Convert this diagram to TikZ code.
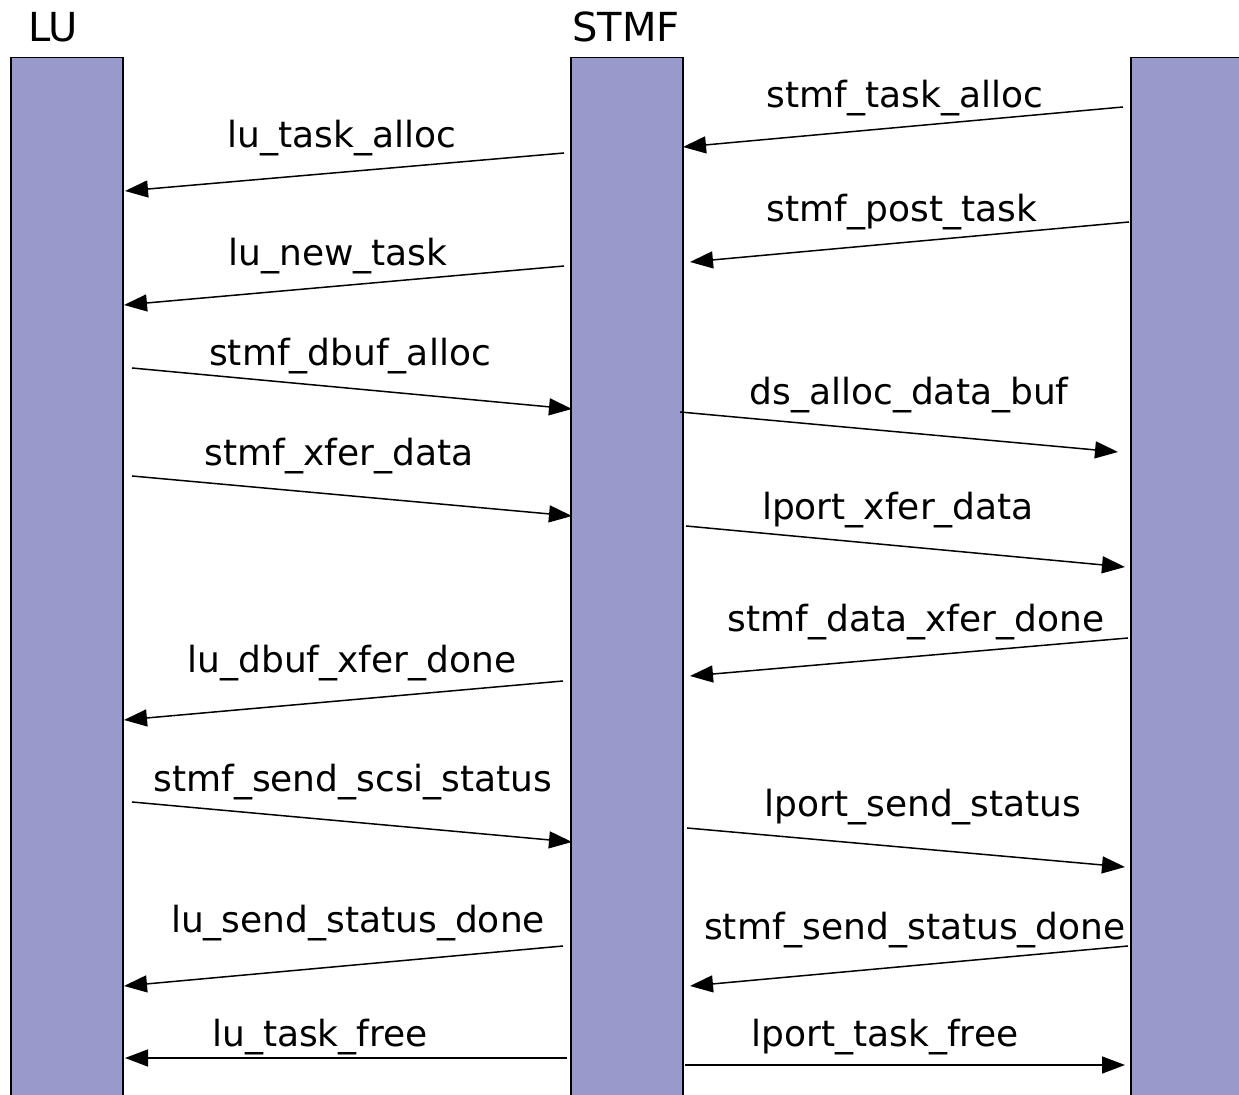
\documentclass[tikz,border=0pt]{standalone}
\usepackage{fontspec}
\setmainfont{DejaVu Sans}
\usetikzlibrary{arrows.meta}
\definecolor{barfill}{RGB}{153,153,204}
\tikzset{
  lifeline/.style={draw=black, line width=0.75pt, fill=barfill, rectangle,
    anchor=north west, inner sep=0pt, minimum width=56pt, minimum height=530pt},
  msg/.style={draw=black, line width=0.75pt, -{Triangle[length=11.5pt,width=8.5pt]}},
  lbl/.style={anchor=base, inner sep=0pt, font=\fontsize{18}{21}\selectfont},
  ttl/.style={anchor=base, inner sep=0pt, font=\fontsize{20}{23}\selectfont},
}
\begin{document}
\begin{tikzpicture}[x=0.5pt,y=-0.5pt]
\useasboundingbox (0,0) rectangle (1239,1095);
% lifelines, running off the bottom (and right) edge
\begin{scope}
  \clip (0,0) rectangle (1239,1095);
  \node[lifeline] (lu) at (10,57) {};
  \node[lifeline] (stmf) at (570,57) {};
  \node[lifeline, minimum width=70pt] (lport) at (1130,57) {};
\end{scope}
% lifeline titles
\node[ttl] (tlu) at (53,42) {LU};
\node[ttl] (tstmf) at (626,42) {STMF};
% messages: start, end, label position, label
\foreach \sx/\sy/\ex/\ey/\lx/\ly/\txt [count=\i] in {
  1123/107/683/147/905/108/stmf\_task\_alloc,
  564/153/125/191/342/148/lu\_task\_alloc,
  1129/222/690/262/902/222/stmf\_post\_task,
  564/266/124/305/338/266/lu\_new\_task,
  132/368/572/409/350/366/stmf\_dbuf\_alloc,
  680/412/1118/452/909/405/ds\_alloc\_data\_buf,
  132/476/572/516/339/466/stmf\_xfer\_data,
  686/526/1125/567/898/520/lport\_xfer\_data,
  1128/638/690/676/916/632/stmf\_data\_xfer\_done,
  563/681/124/720/352/673/lu\_dbuf\_xfer\_done,
  132/802/572/842/353/792/stmf\_send\_scsi\_status,
  687/828/1125/867/923/817/lport\_send\_status,
  1128/946/690/986/915/940/stmf\_send\_status\_done,
  563/946/124/986/358/933/lu\_send\_status\_done,
  567/1058/125/1058/320/1047/lu\_task\_free,
  685/1065/1125/1065/885/1047/lport\_task\_free}
{
  \coordinate (src\i) at (\sx,\sy);
  \coordinate (dst\i) at (\ex,\ey);
  \draw[msg] (src\i) -- (dst\i);
  \node[lbl] (m\i) at (\lx,\ly) {\txt};
}
\end{tikzpicture}
\end{document}
